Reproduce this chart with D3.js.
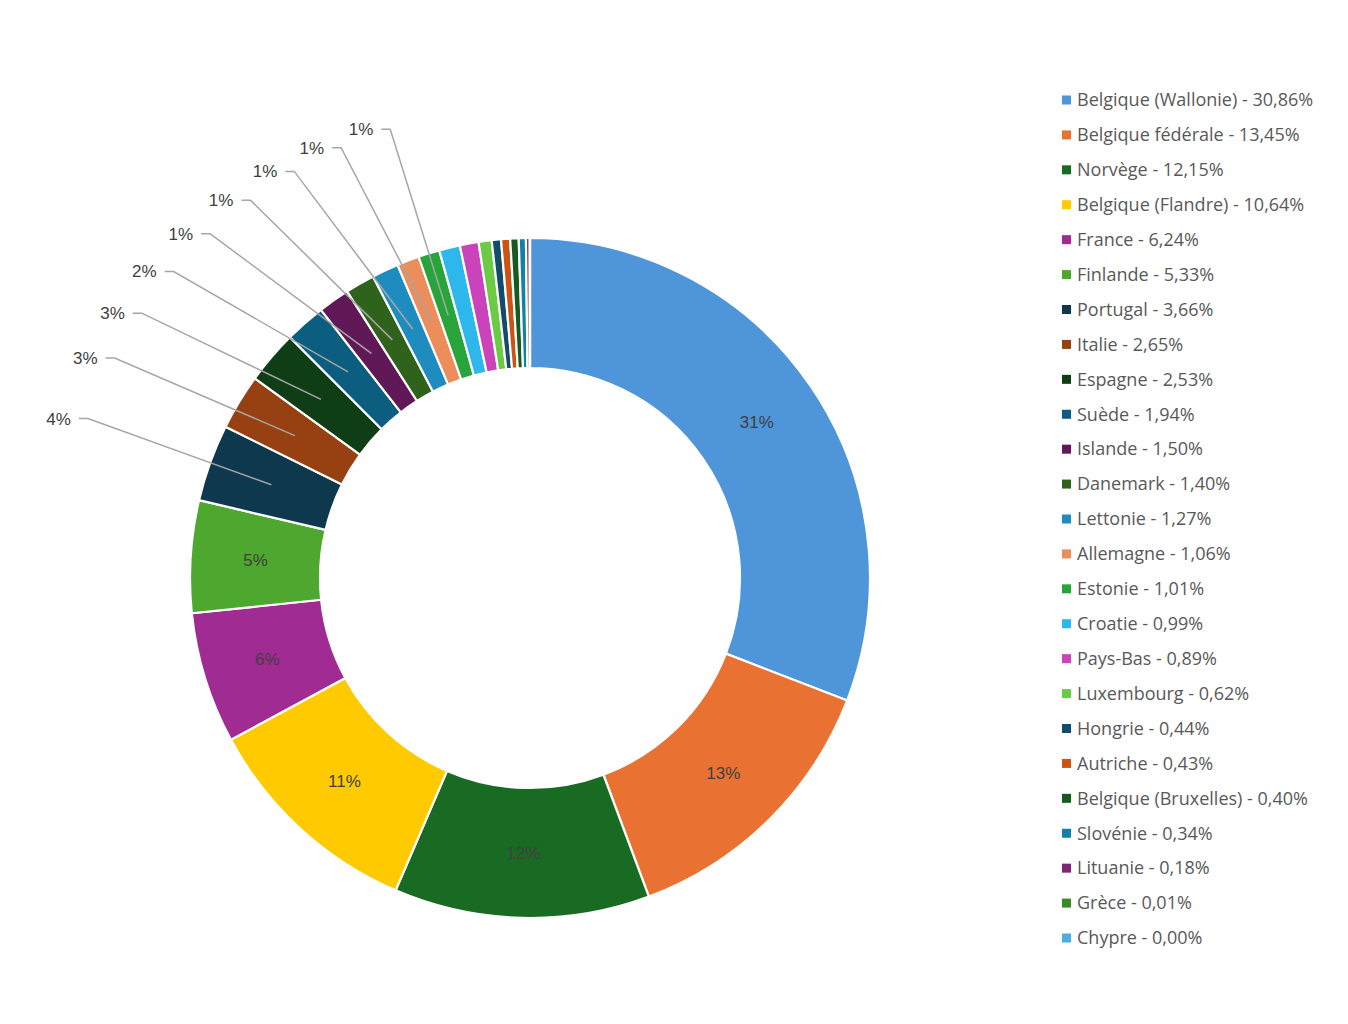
<!DOCTYPE html>
<html>
<head>
<meta charset="utf-8">
<script src="https://cdn.jsdelivr.net/npm/d3@7"></script>
<style>
  body { margin: 0; background: #fff; }
  svg { display: block; }
</style>
</head>
<body>
<svg id="chart" width="1348" height="1024"></svg>
<script>
// data
const countries = ["Belgique (Wallonie)", "Belgique fédérale", "Norvège", "Belgique (Flandre)", "France",
  "Finlande", "Portugal", "Italie", "Espagne", "Suède", "Islande", "Danemark", "Lettonie", "Allemagne",
  "Estonie", "Croatie", "Pays-Bas", "Luxembourg", "Hongrie", "Autriche", "Belgique (Bruxelles)",
  "Slovénie", "Lituanie", "Grèce", "Chypre"]
const shares = [30.86, 13.45, 12.15, 10.64, 6.24, 5.33, 3.66, 2.65, 2.53, 1.94, 1.50, 1.40, 1.27, 1.06,
  1.01, 0.99, 0.89, 0.62, 0.44, 0.43, 0.40, 0.34, 0.18, 0.01, 0.00]
// data labels as excel shows them (only the first 15 slices get one)
const pctLabels = ["31%", "13%", "12%", "11%", "6%", "5%", "4%", "3%", "3%", "2%", "1%", "1%", "1%", "1%", "1%"]
const colors = ["#4E95D9", "#E97132", "#196B24", "#FFCA00", "#A02B93", "#4EA72E", "#0E384E", "#974012",
  "#0F3D15", "#0B5E7F", "#601956", "#2F621B", "#1F8CC0", "#EC8D5C", "#27A43A", "#2DB7EC", "#CB43BB",
  "#6CCB45", "#134B6B", "#CC5313", "#165A21", "#1281A8", "#7A2873", "#3A8A27", "#4AAEDF"]

const data = countries.map((c, i) => ({ name: c, value: shares[i], label: pctLabels[i] }))

const svg = d3.select("#chart")
const cx = 530, cy = 578
const outerR = 340, innerR = 210
const insideMin = 5   // smaller slices get their label outside with a leader line

const color = d3.scaleOrdinal().domain(countries).range(colors)

const pie = d3.pie().value(d => d.value).sort(null)
const arcs = pie(data)

const arc = d3.arc().innerRadius(innerR).outerRadius(outerR)
const midArc = d3.arc().innerRadius((innerR + outerR) / 2).outerRadius((innerR + outerR) / 2)

const g = svg.append("g").attr("transform", `translate(${cx},${cy})`)

g.selectAll("path.slice")
  .data(arcs)
  .enter().append("path")
  .attr("class", "slice")
  .attr("d", arc)
  .attr("fill", d => color(d.data.name))
  .attr("stroke", "#fff")
  .attr("stroke-width", 2.2)
  .attr("stroke-linejoin", "round")

// inside labels
g.selectAll("text.inlabel")
  .data(arcs.filter(d => d.data.label && d.data.value >= insideMin))
  .enter().append("text")
  .attr("class", "inlabel")
  .attr("transform", d => `translate(${midArc.centroid(d)})`)
  .attr("text-anchor", "middle")
  .attr("dy", "0.35em")
  .attr("font-family", "Liberation Sans, Arial, sans-serif")
  .attr("font-size", 17)
  .attr("fill", "#404040")
  .text(d => d.data.label)

// outside labels with leader lines
// labels sit on a ring; walking down from the top one, each keeps at least minGap from the previous
const labR = 470
const minGap = 6.4 * Math.PI / 180
const outside = arcs.filter(d => d.data.label && d.data.value < insideMin)
  .sort((a, b) => (b.startAngle + b.endAngle) - (a.startAngle + a.endAngle))
let prev = null
const lab = outside.map(d => {
  let a = (d.startAngle + d.endAngle) / 2
  if (prev !== null) a = Math.min(a, prev - minGap)
  prev = a
  const p = [labR * Math.sin(a), -labR * Math.cos(a)]
  return { d, c: midArc.centroid(d), p, left: p[0] < 0 }
})

g.selectAll("polyline.leader")
  .data(lab)
  .enter().append("polyline")
  .attr("class", "leader")
  .attr("points", l => {
    const h = l.left ? -9 : 9
    return [[l.p[0] + h, l.p[1]], l.p, l.c].map(q => q.join(",")).join(" ")
  })
  .attr("fill", "none")
  .attr("stroke", "#A6A6A6")
  .attr("stroke-width", 1.5)

g.selectAll("text.outlabel")
  .data(lab)
  .enter().append("text")
  .attr("class", "outlabel")
  .attr("x", l => l.p[0] + (l.left ? -17 : 17))
  .attr("y", l => l.p[1])
  .attr("dy", "0.35em")
  .attr("text-anchor", l => l.left ? "end" : "start")
  .attr("font-family", "Liberation Sans, Arial, sans-serif")
  .attr("font-size", 17)
  .attr("fill", "#404040")
  .text(l => l.d.data.label)

// legend
const legendY = d3.scalePoint().domain(countries).range([100, 938])
const fmt = v => d3.format(".2f")(v).replace(".", ",") + "%"

const legend = svg.append("g").attr("class", "legend")
const item = legend.selectAll("g")
  .data(data)
  .enter().append("g")
  .attr("transform", d => `translate(1062,${legendY(d.name)})`)

item.append("rect")
  .attr("x", 0).attr("y", -4.5)
  .attr("width", 9).attr("height", 9)
  .attr("fill", d => color(d.name))

item.append("text")
  .attr("x", 15)
  .attr("dy", "0.35em")
  .attr("font-family", "Open Sans, sans-serif")
  .attr("font-size", 18)
  .attr("fill", "#595959")
  .text(d => d.name + " - " + fmt(d.value))
</script>
</body>
</html>
